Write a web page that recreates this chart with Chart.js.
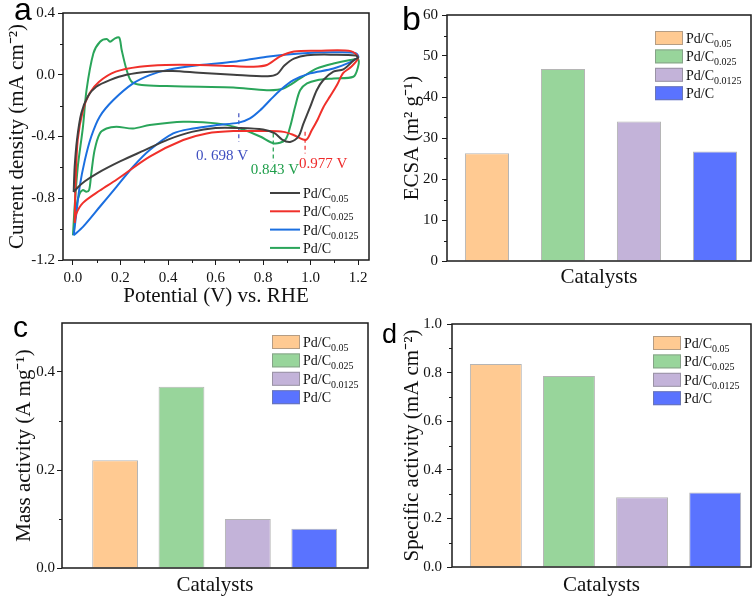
<!DOCTYPE html>
<html>
<head>
<meta charset="utf-8">
<script src="https://cdn.jsdelivr.net/npm/chart.js@4.4.1/dist/chart.umd.min.js"></script>
<style>
  html, body { margin: 0; padding: 0; background: #fff; }
  body { width: 756px; height: 599px; position: relative; overflow: hidden; }
  canvas { position: absolute; }
</style>
</head>
<body>
<canvas id="chartA" width="378" height="310" style="left:0;top:0"></canvas>
<canvas id="chartB" width="378" height="300" style="left:378px;top:0"></canvas>
<canvas id="chartC" width="378" height="299" style="left:0;top:300px"></canvas>
<canvas id="chartD" width="378" height="299" style="left:378px;top:300px"></canvas>
<script>
// Catalyst names (base + subscript)
const catalystNames = ['Pd/C', 'Pd/C', 'Pd/C', 'Pd/C'];
const catalystSubs = ['0.05', '0.025', '0.0125', ''];
const lineColors = ['#404040', '#f0302a', '#1b6fe0', '#2aa55a'];
const barColors = ['#ffca92', '#98d59b', '#c3b3d9', '#5a73ff'];

// Panel a: CV curves, potential (V vs RHE) and current density (mA cm-2)
const pdc005V = [0.003, 0.007, 0.017, 0.035, 0.063, 0.098, 0.155, 0.225, 0.32, 0.42, 0.53, 0.675, 0.82, 0.86, 0.89, 0.93, 0.985, 1.10, 1.19, 1.2, 1.187, 1.138, 1.096, 1.054, 1.026, 0.998, 0.97, 0.949, 0.914, 0.88, 0.85, 0.8, 0.7, 0.6, 0.5, 0.4, 0.3, 0.2, 0.1, 0.05, 0.02, 0.003];
const pdc005J = [-0.76, -0.60, -0.42, -0.25, -0.14, -0.078, -0.035, 0.0, 0.02, 0.024, 0.013, 0.0, -0.01, 0.005, 0.06, 0.105, 0.127, 0.13, 0.125, 0.11, 0.1, 0.035, 0.02, -0.034, -0.1, -0.21, -0.316, -0.40, -0.435, -0.42, -0.38, -0.355, -0.345, -0.345, -0.37, -0.42, -0.49, -0.56, -0.64, -0.69, -0.73, -0.76];

const pdc0025V = [0.007, 0.011, 0.02, 0.042, 0.07, 0.11, 0.18, 0.28, 0.39, 0.53, 0.675, 0.76, 0.816, 0.87, 0.93, 1.03, 1.17, 1.2, 1.17, 1.137, 1.11, 1.082, 1.054, 1.03, 1.005, 0.98, 0.928, 0.886, 0.816, 0.675, 0.563, 0.464, 0.323, 0.183, 0.113, 0.042, 0.014, 0.007];
const pdc0025J = [-0.96, -0.70, -0.42, -0.23, -0.12, -0.045, 0.02, 0.052, 0.063, 0.063, 0.056, 0.052, 0.063, 0.117, 0.15, 0.155, 0.153, 0.11, 0.05, 0.01, -0.07, -0.14, -0.21, -0.29, -0.36, -0.423, -0.39, -0.37, -0.365, -0.365, -0.38, -0.423, -0.53, -0.68, -0.75, -0.83, -0.9, -0.96];

const pdc00125V = [0.003, 0.014, 0.028, 0.05, 0.077, 0.113, 0.17, 0.253, 0.323, 0.394, 0.534, 0.675, 0.816, 0.956, 1.097, 1.19, 1.2, 1.097, 0.998, 0.928, 0.872, 0.83, 0.788, 0.745, 0.698, 0.605, 0.506, 0.422, 0.323, 0.253, 0.183, 0.113, 0.042, 0.003];
const pdc00125J = [-1.04, -0.9, -0.726, -0.553, -0.40, -0.27, -0.164, -0.056, -0.002, 0.03, 0.063, 0.084, 0.117, 0.138, 0.145, 0.14, 0.11, 0.04, 0.009, -0.035, -0.1, -0.164, -0.23, -0.283, -0.31, -0.326, -0.348, -0.38, -0.488, -0.596, -0.726, -0.855, -0.985, -1.04];

const pdcV = [0.0, 0.007, 0.02, 0.042, 0.057, 0.086, 0.114, 0.142, 0.156, 0.177, 0.195, 0.205, 0.226, 0.247, 0.29, 0.394, 0.534, 0.675, 0.816, 0.886, 0.956, 1.027, 1.097, 1.167, 1.2, 1.2, 1.18, 1.097, 1.027, 0.985, 0.956, 0.935, 0.914, 0.893, 0.847, 0.788, 0.703, 0.605, 0.464, 0.323, 0.253, 0.183, 0.141, 0.113, 0.091, 0.077, 0.068, 0.056, 0.042, 0.028, 0.014, 0.003];
const pdcJ = [-1.04, -0.855, -0.6, -0.337, -0.1, 0.139, 0.214, 0.232, 0.214, 0.236, 0.24, 0.16, 0.03, -0.045, -0.067, -0.073, -0.078, -0.082, -0.1, -0.089, -0.024, 0.041, 0.073, 0.095, 0.1, 0.052, -0.013, -0.024, -0.035, -0.056, -0.1, -0.207, -0.337, -0.423, -0.445, -0.40, -0.348, -0.315, -0.305, -0.326, -0.348, -0.337, -0.348, -0.38, -0.488, -0.64, -0.747, -0.758, -0.747, -0.77, -0.855, -1.03];

// Peak markers in panel a
const peakV = [0.698, 0.843, 0.977];
const peakTop = [-0.25, -0.38, -0.37];
const peakBottom = [-0.434, -0.564, -0.51];
const peakLabels = ['0. 698 V', '0.843 V', '0.977 V'];
const peakColors = ['#3f4fc0', '#1e9e4a', '#ee2a2a'];
const peakLabelV = [0.627, 0.85, 1.053];
const peakLabelJ = [-0.528, -0.62, -0.58];

// Tick values
const cvXTicks = [0, 0.2, 0.4, 0.6, 0.8, 1.0, 1.2];
const cvXMinor = [0.1, 0.3, 0.5, 0.7, 0.9, 1.1];
const cvYTicks = [-1.2, -0.8, -0.4, 0.0, 0.4];
const cvYMinor = [-1.0, -0.6, -0.2, 0.2];

// Panels b, c, d: bar values
const ecsa = [26.3, 46.8, 34.0, 26.7];
const massActivity = [0.22, 0.37, 0.10, 0.08];
const specificActivity = [0.835, 0.786, 0.287, 0.307];

const ecsaTicks = [0, 10, 20, 30, 40, 50, 60];
const ecsaMinor = [5, 15, 25, 35, 45, 55];
const massTicks = [0, 0.2, 0.4];
const massMinor = [0.1, 0.3];
const specTicks = [0, 0.2, 0.4, 0.6, 0.8, 1.0];
const specMinor = [0.1, 0.3, 0.5, 0.7, 0.9];

Chart.defaults.font.family = "'Liberation Serif', 'Times New Roman', serif";
Chart.defaults.font.size = 15;
Chart.defaults.color = '#111';
Chart.defaults.animation = false;
Chart.defaults.plugins.legend.display = false;
Chart.defaults.plugins.tooltip.enabled = false;

// Box around the plot area
const frame = {
    id: 'frame',
    afterDatasetsDraw(chart) {
        const { ctx, chartArea: a } = chart;
        ctx.save();
        ctx.strokeStyle = '#1a1a1a';
        ctx.lineWidth = 1.5;
        ctx.strokeRect(a.left, a.top, a.right - a.left, a.bottom - a.top);
        ctx.restore();
    }
};

// Short minor ticks outside the axes
const minorTicks = {
    id: 'minorTicks',
    afterDraw(chart, args, opts) {
        const { ctx, chartArea: a } = chart;
        ctx.save();
        ctx.strokeStyle = '#1a1a1a';
        ctx.lineWidth = 1;
        ctx.beginPath();
        (opts.x || []).forEach(v => {
            const p = Math.round(chart.scales.x.getPixelForValue(v)) + 0.5;
            ctx.moveTo(p, a.bottom); ctx.lineTo(p, a.bottom + 3);
        });
        (opts.y || []).forEach(v => {
            const p = Math.round(chart.scales.y.getPixelForValue(v)) + 0.5;
            ctx.moveTo(a.left - 3, p); ctx.lineTo(a.left, p);
        });
        ctx.stroke();
        ctx.restore();
    }
};

// Legend with subscripts
const subLegend = {
    id: 'subLegend',
    afterDraw(chart, args, o) {
        if (!o.colors) return;
        const { ctx, chartArea: a } = chart;
        ctx.save();
        catalystNames.forEach((name, i) => {
            const x = a.right - o.dx;
            const y = a.top + o.dy + i * o.gap;
            if (o.swatch === 'line') {
                ctx.strokeStyle = o.colors[i];
                ctx.lineWidth = 2;
                ctx.beginPath(); ctx.moveTo(x, y); ctx.lineTo(x + o.w, y); ctx.stroke();
            } else {
                ctx.fillStyle = o.colors[i];
                ctx.fillRect(x, y - 7, o.w, 14);
                ctx.strokeStyle = 'rgba(120,120,120,0.55)';
                ctx.lineWidth = 1;
                ctx.strokeRect(x + 0.5, y - 6.5, o.w - 1, 13);
            }
            const tx = x + o.w + 3, base = y + 5;
            ctx.fillStyle = '#111';
            ctx.font = "14px 'Liberation Serif'";
            ctx.fillText(name, tx, base);
            const w = ctx.measureText(name).width;
            ctx.font = "10px 'Liberation Serif'";
            ctx.fillText(catalystSubs[i], tx + w, base + 4);
        });
        ctx.restore();
    }
};

// Panel letter
const panelLabel = {
    id: 'panelLabel',
    afterDraw(chart, args, o) {
        if (!o.text) return;
        const ctx = chart.ctx;
        ctx.save();
        ctx.fillStyle = '#000';
        ctx.font = o.size + "px 'Liberation Sans', Arial, sans-serif";
        ctx.textBaseline = 'alphabetic';
        ctx.fillText(o.text, o.x, o.y);
        ctx.restore();
    }
};

// Peak potential labels in panel a
const peakText = {
    id: 'peakText',
    afterDraw(chart, args, o) {
        if (!o.show) return;
        const { ctx, scales } = chart;
        ctx.save();
        ctx.font = "15px 'Liberation Serif'";
        ctx.textAlign = 'center';
        ctx.textBaseline = 'middle';
        peakLabels.forEach((t, i) => {
            ctx.fillStyle = peakColors[i];
            ctx.fillText(t, scales.x.getPixelForValue(peakLabelV[i]), scales.y.getPixelForValue(peakLabelJ[i]));
        });
        ctx.restore();
    }
};

Chart.register(frame, minorTicks, subLegend, panelLabel, peakText);

const toPoints = (xs, ys) => xs.map((x, i) => ({ x, y: ys[i] }));
const setTicks = list => scale => { scale.ticks = list.map(v => ({ value: v })); };

function axisY(opts) {
    return {
        min: opts.min, max: opts.max,
        afterBuildTicks: setTicks(opts.ticks),
        afterFit: s => { s.width = opts.width; },
        grid: { drawOnChartArea: false, tickLength: 5, color: '#1a1a1a', lineWidth: 1 },
        border: { display: false },
        ticks: { padding: opts.pad, color: '#111', font: { size: 15 }, callback: opts.fmt },
        title: { display: true, text: opts.title, font: { size: 21 }, color: '#111', padding: { top: opts.tpad, bottom: 0 } }
    };
}

// ---------- Panel a ----------
const cvSets = [
    [pdc005V, pdc005J], [pdc0025V, pdc0025J], [pdc00125V, pdc00125J], [pdcV, pdcJ]
].map((s, i) => ({
    data: toPoints(s[0], s[1]),
    showLine: true, borderColor: lineColors[i], borderWidth: 2,
    pointRadius: 0, tension: 0.3, fill: false
}));
const markSets = peakV.map((v, i) => ({
    data: toPoints([v, v], [peakTop[i], peakBottom[i]]),
    showLine: true, borderColor: peakColors[i], borderWidth: 1.2,
    borderDash: [4, 3], pointRadius: 0
}));

new Chart(document.getElementById('chartA'), {
    type: 'scatter',
    data: { datasets: cvSets.concat(markSets) },
    options: {
        responsive: false,
        layout: { padding: { left: 0, top: 13, right: 9, bottom: 0 } },
        scales: {
            x: {
                type: 'linear', min: -0.042, max: 1.246,
                afterBuildTicks: setTicks(cvXTicks),
                afterFit: s => { s.height = 50; },
                grid: { drawOnChartArea: false, tickLength: 5, color: '#1a1a1a' },
                border: { display: false },
                ticks: { padding: 4, color: '#111', font: { size: 15 }, maxRotation: 0, callback: v => v.toFixed(1) },
                title: { display: true, text: 'Potential (V) vs. RHE', font: { size: 21 }, color: '#111', padding: { top: 0, bottom: 1 } }
            },
            y: axisY({ min: -1.2, max: 0.4, ticks: cvYTicks, width: 63, pad: 3, tpad: 5,
                       title: 'Current density (mA cm\u207B\u00B2)', fmt: v => v.toFixed(1) })
        },
        plugins: {
            minorTicks: { x: cvXMinor, y: cvYMinor },
            subLegend: { colors: lineColors, swatch: 'line', dx: 99, dy: 180, gap: 18.3, w: 30 },
            panelLabel: { text: 'a', x: 14, y: 20, size: 32 },
            peakText: { show: true }
        }
    }
});

// ---------- Bar panels ----------
function barChart(id, values, o) {
    new Chart(document.getElementById(id), {
        type: 'bar',
        data: {
            datasets: [{
                data: values.map((v, i) => ({ x: i + 1, y: v })),
                backgroundColor: barColors,
                borderColor: 'rgba(120,120,120,0.55)',
                borderWidth: 1,
                categoryPercentage: 1,
                barPercentage: o.bar
            }]
        },
        options: {
            responsive: false,
            layout: { padding: { left: 0, top: o.top, right: o.right, bottom: 0 } },
            scales: {
                x: {
                    type: 'linear', min: o.xmin, max: o.xmax, offset: false,
                    afterBuildTicks: setTicks(values.map((v, i) => i + 1)),
                    afterFit: s => { s.height = o.xh; },
                    grid: { display: false, offset: false },
                    border: { display: false },
                    ticks: { display: false },
                    title: { display: true, text: 'Catalysts', font: { size: 21 }, color: '#111', padding: { top: 0, bottom: o.xpad } }
                },
                y: axisY({ min: 0, max: o.ymax, ticks: o.ticks, width: o.yw, pad: o.ypad, tpad: o.tpad,
                           title: o.title, fmt: o.fmt })
            },
            plugins: {
                minorTicks: { y: o.minor },
                subLegend: { colors: barColors, swatch: 'box', dx: o.ldx, dy: o.ldy, gap: 18.4, w: 28 },
                panelLabel: o.label
            }
        }
    });
}

barChart('chartB', ecsa, {
    top: 15, right: 5, xmin: 0.474, xmax: 4.474, bar: 0.58, xh: 39, xpad: 10,
    ymax: 60, ticks: ecsaTicks, minor: ecsaMinor, yw: 69, ypad: 4, tpad: 22,
    title: 'ECSA (m\u00B2 g\u207B\u00B9)', fmt: v => v.toFixed(0),
    ldx: 96, ldy: 23, label: { text: 'b', x: 24, y: 30, size: 34 }
});

barChart('chartC', massActivity, {
    top: 23, right: 10, xmin: 0.2, xmax: 4.81, bar: 0.69, xh: 31, xpad: 1,
    ymax: 0.5, ticks: massTicks, minor: massMinor, yw: 62, ypad: 2, tpad: 12,
    title: 'Mass activity (A mg\u207B\u00B9)', fmt: v => v.toFixed(1),
    ldx: 96, ldy: 19, label: { text: 'c', x: 13, y: 37, size: 30 }
});

barChart('chartD', specificActivity, {
    top: 24, right: 5, xmin: 0.4, xmax: 4.49, bar: 0.71, xh: 32, xpad: 1,
    ymax: 1.0, ticks: specTicks, minor: specMinor, yw: 74, ypad: 5, tpad: 22,
    title: 'Specific activity (mA cm\u207B\u00B2)', fmt: v => v.toFixed(1),
    ldx: 98, ldy: 19, label: { text: 'd', x: 4, y: 43, size: 27 }
});
</script>
</body>
</html>
